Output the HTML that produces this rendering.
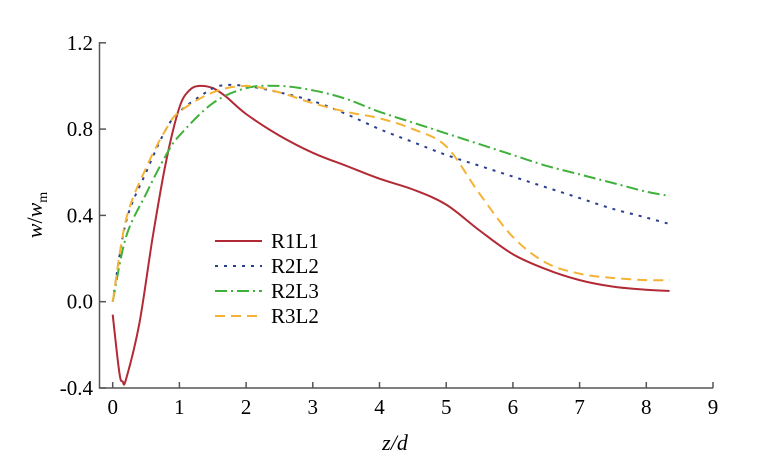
<!DOCTYPE html>
<html><head><meta charset="utf-8"><style>body{margin:0;background:#fff}svg{display:block;font-family:"Liberation Serif",serif}</style></head>
<body>
<svg width="759" height="466">
<g id="axes"></g>
<g id="series"></g>
<g id="legend"></g>
<text x="395" y="450" font-size="22" font-style="italic" text-anchor="middle">z/d</text>
<text transform="translate(42,215) rotate(-90)" font-size="22" text-anchor="middle"><tspan font-style="italic">w</tspan>/<tspan font-style="italic">w</tspan><tspan font-size="14" dy="5">m</tspan></text>
</svg>
<script>
const xTicks=[0,1,2,3,4,5,6,7,8,9];
const yTicks=[-0.4,0.0,0.4,0.8,1.2];
const seriesNames=["R1L1","R2L2","R2L3","R3L2"];
const r1l1X=[0,0.1,0.15,0.2,0.4,0.6,0.8,1,1.15,1.3,1.5,1.7,2,2.5,3,3.5,4,4.5,5,5.5,6,6.5,7,7.5,8,8.35];
const r1l1Y=[-0.06,-0.33,-0.37,-0.36,-0.1,0.3,0.65,0.9,0.98,1.0,0.99,0.95,0.87,0.77,0.69,0.63,0.57,0.52,0.45,0.33,0.22,0.15,0.1,0.07,0.055,0.05];
const r2l2X=[0,0.2,0.5,0.8,1,1.3,1.6,2,2.5,3,3.5,4,4.5,5,5.5,6,6.5,7,7.5,8,8.35];
const r2l2Y=[0,0.37,0.6,0.8,0.88,0.95,1.0,1.0,0.97,0.93,0.87,0.8,0.74,0.68,0.63,0.58,0.53,0.48,0.43,0.39,0.36];
const r2l3X=[0,0.2,0.5,0.8,1,1.5,2,2.5,3,3.5,4,4.5,5,5.5,6,6.5,7,7.5,8,8.35];
const r2l3Y=[0,0.3,0.5,0.68,0.77,0.92,0.99,1.0,0.98,0.94,0.88,0.83,0.78,0.73,0.68,0.63,0.59,0.55,0.51,0.49];
const r3l2X=[0,0.2,0.5,0.8,1,1.5,2,2.5,3,3.5,4,4.5,5,5.5,6,6.5,7,7.5,8,8.35];
const r3l2Y=[0,0.38,0.62,0.8,0.88,0.97,1.0,0.97,0.92,0.88,0.85,0.8,0.72,0.5,0.3,0.18,0.13,0.11,0.1,0.1];
const NS="http://www.w3.org/2000/svg";
const X=v=>112.7+v*66.7, Y=v=>301.7-v*215.75;
function mk(t,a,p){const e=document.createElementNS(NS,t);for(const k in a)e.setAttribute(k,a[k]);p.appendChild(e);return e;}
function smooth(P){let d='M'+P[0][0].toFixed(1)+','+P[0][1].toFixed(1);
 for(let i=0;i<P.length-1;i++){const p0=P[Math.max(i-1,0)],p1=P[i],p2=P[i+1],p3=P[Math.min(i+2,P.length-1)];
  const c1=[p1[0]+(p2[0]-p0[0])/6,p1[1]+(p2[1]-p0[1])/6],c2=[p2[0]-(p3[0]-p1[0])/6,p2[1]-(p3[1]-p1[1])/6];
  d+=' C'+c1.map(v=>v.toFixed(1)).join(',')+' '+c2.map(v=>v.toFixed(1)).join(',')+' '+p2.map(v=>v.toFixed(1)).join(',');}
 return d;}
const ax=document.getElementById('axes');
const frame=mk('path',{d:'M99.5,42 V388 H713',fill:'none',stroke:'#555','stroke-width':1.5},ax);


xTicks.forEach(t=>{
 const l=mk('line',{x1:X(t),x2:X(t),y1:388,y2:382,stroke:'#555','stroke-width':1.5},ax);
 
 
 const s=mk('text',{x:X(t),y:414,'font-size':21,'text-anchor':'middle'},ax);s.textContent=t;
 
 
});
yTicks.forEach(t=>{
 const l=mk('line',{x1:99.5,x2:106,y1:Y(t),y2:Y(t),stroke:'#555','stroke-width':1.5},ax);
 
 
 const s=mk('text',{x:93,y:Y(t)+7,'font-size':21,'text-anchor':'end'},ax);s.textContent=t.toFixed(1);
 
 
});
const styles=[["#b22a35",""],["#2a3f8f","3,6"],["#3fb13a","12,4,2,4"],["#f5b335","10,6"]];
const xs=[r1l1X,r2l2X,r2l3X,r3l2X], ys=[r1l1Y,r2l2Y,r2l3Y,r3l2Y];
const sg=document.getElementById('series'), lg=document.getElementById('legend');
seriesNames.forEach((n,i)=>{
 const pts=xs[i].map((x,j)=>[X(x),Y(ys[i][j])]);
 const p=mk('path',{d:smooth(pts),fill:'none',stroke:styles[i][0],'stroke-width':2,'stroke-dasharray':styles[i][1],'stroke-linejoin':'round'},sg);
 
 
 const y=241+i*25;
 const l=mk('line',{x1:215,x2:262,y1:y,y2:y,stroke:styles[i][0],'stroke-width':2,'stroke-dasharray':styles[i][1]},lg);
 
 
 const s=mk('text',{x:271,y:y+7,'font-size':21},lg);s.textContent=n;
 
 
});
</script>
</body></html>
